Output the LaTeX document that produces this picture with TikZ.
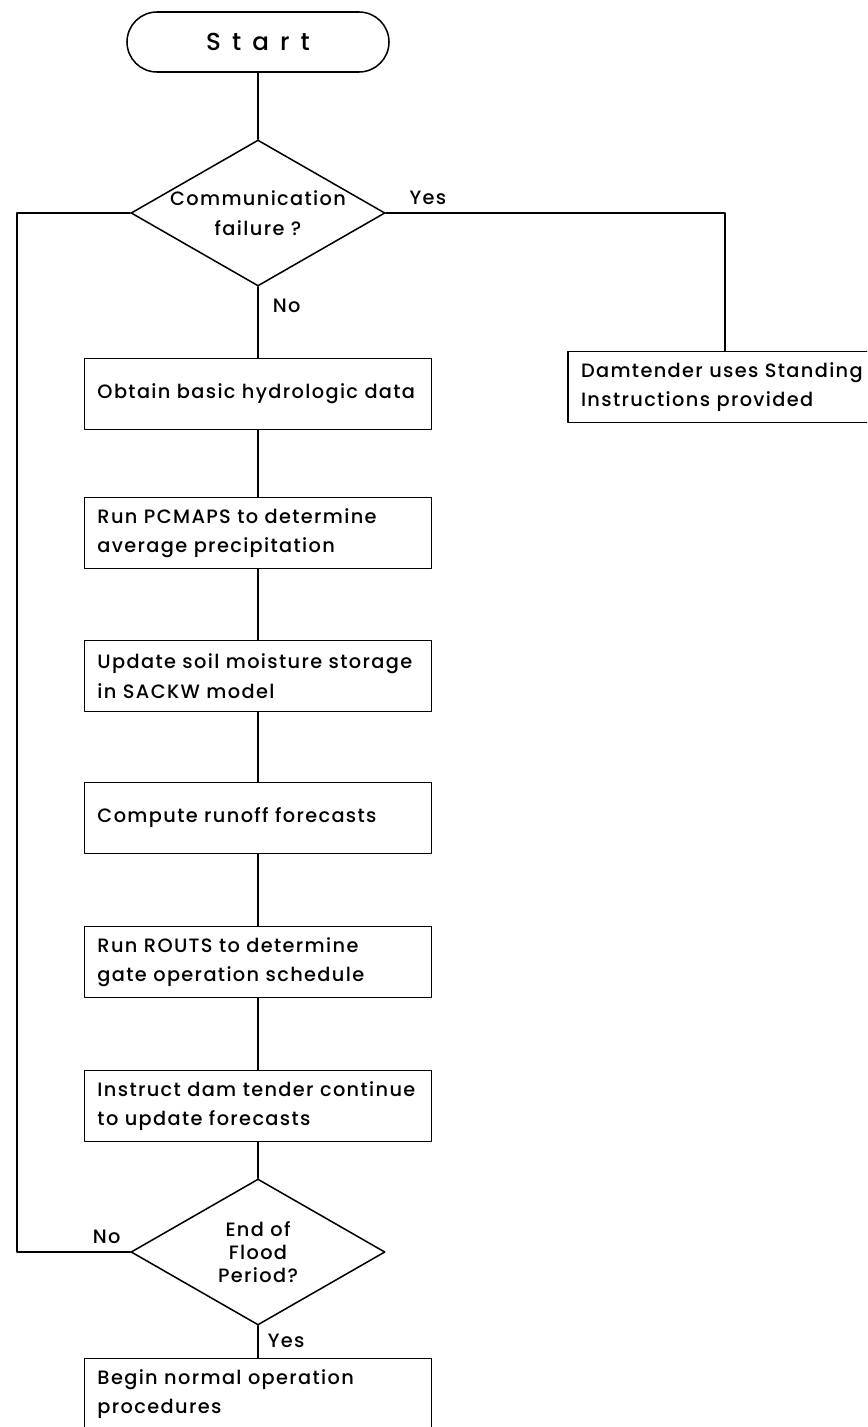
\documentclass[tikz,border=0pt]{standalone}
\usepackage{fontspec}
\setmainfont{Poppins}[UprightFont=* Medium]
\usetikzlibrary{shapes.geometric}

\begin{document}
\begin{tikzpicture}[x=0.03cm,y=-0.03cm,line cap=round,line join=round,line width=1.3pt,
  every node/.style={font=\fontsize{16.5}{25}\selectfont\addfontfeature{LetterSpace=7}},
  terminal/.style={draw, rectangle, rounded corners=0.9cm, minimum width=7.86cm, minimum height=1.8cm},
  decision/.style={draw, diamond, aspect=1.72, minimum width=7.62cm, minimum height=4.38cm, inner sep=-3pt, align=center},
  stepbox/.style={draw, rectangle, minimum width=10.41cm, minimum height=2.13cm, text width=9.63cm, inner xsep=0.39cm, align=left},
  answer/.style={inner sep=0pt}]
  \useasboundingbox (0,0) rectangle (867,1427);
  \clip (0,0) rectangle (867,1427);

  % main column
  \node[terminal] (start) at (258,42) {\fontsize{21}{24}\selectfont\addfontfeature{LetterSpace=45}Start};
  \node[decision] (fail) at (258,213) {Communication\\failure ?};
  \node[stepbox] (obtain) at (258,394) {Obtain basic hydrologic data};
  \node[stepbox] (pcmaps) at (258,533) {Run PCMAPS to determine\\average precipitation};
  \node[stepbox] (soil) at (258,676) {Update soil moisture storage\\in SACKW model};
  \node[stepbox] (runoff) at (258,818) {Compute runoff forecasts};
  \node[stepbox] (routs) at (258,962) {Run ROUTS to determine\\gate operation schedule};
  \node[stepbox] (instruct) at (258,1106) {Instruct dam tender continue\\to update forecasts};
  \node[decision, font=\fontsize{16.5}{19.5}\selectfont\addfontfeature{LetterSpace=7}] (endflood) at (258,1252) {End of\\Flood\\Period?};
  \node[stepbox] (normal) at (258,1394) {Begin normal operation\\procedures};

  % yes branch of the first test
  \node[stepbox, minimum width=9.42cm, text width=8.64cm] (standing) at (725,387) {Damtender uses Standing\\Instructions provided};

  % connectors
  \foreach \a/\b in {start/fail, fail/obtain, obtain/pcmaps, pcmaps/soil, soil/runoff,
                     runoff/routs, routs/instruct, instruct/endflood, endflood/normal}
    \draw (\a) -- (\b);
  \draw (fail.east) -| (standing.north);
  \coordinate (loop) at (17,0);
  \draw (endflood.west) -- (endflood.west -| loop) -- (fail.west -| loop) -- (fail.west);

  % answers
  \node[answer, anchor=base west] (failyes) at ([xshift=0.69cm, yshift=0.27cm]fail.east) {Yes};
  \node[answer, anchor=base west] (failno) at ([xshift=0.42cm, yshift=-0.78cm]fail.south) {No};
  \node[answer, anchor=base east] (endno) at ([xshift=-0.27cm, yshift=0.27cm]endflood.west) {No};
  \node[answer, anchor=base west] (endyes) at ([xshift=0.27cm, yshift=-0.66cm]endflood.south) {Yes};
\end{tikzpicture}
\end{document}
